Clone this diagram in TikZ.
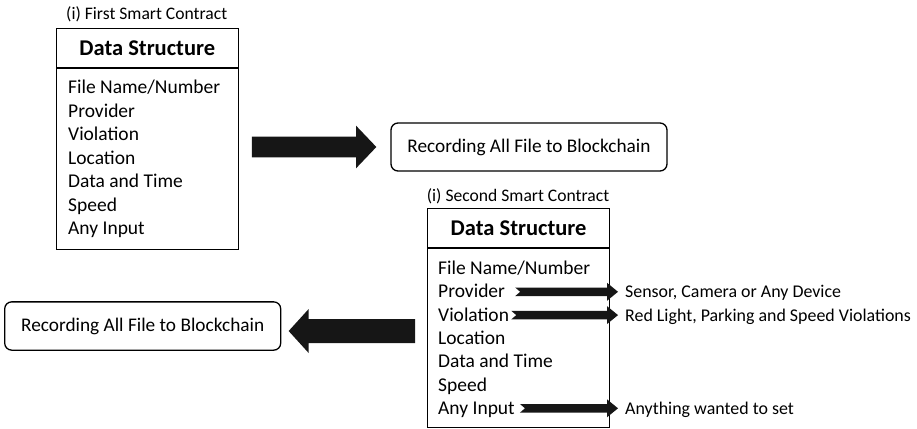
\documentclass[tikz,border=0pt]{standalone}
\usepackage{fontspec}
\setmainfont{Carlito}
\usetikzlibrary{calc}
\definecolor{arrowblack}{HTML}{161616}
\tikzset{
  frame/.style={draw=black, line width=1.2pt, rectangle, inner sep=0pt},
  titlebox/.style={frame, minimum width=182pt, minimum height=38.6pt, anchor=north west,
    font=\fontsize{22.5}{27}\selectfont\bfseries},
  bodybox/.style={frame, minimum width=182pt, anchor=north west},
  item/.style={inner sep=0pt, anchor=base west, font=\fontsize{19.5}{23.4}\selectfont},
  caption/.style={inner sep=0pt, anchor=base, font=\fontsize{17.6}{21}\selectfont},
  sidelabel/.style={inner sep=0pt, anchor=base west, font=\fontsize{17.9}{21}\selectfont},
  recbox/.style={draw=black, line width=1.3pt, rounded corners=7pt, inner sep=0pt,
    minimum width=276pt, minimum height=48pt, font=\fontsize{19.3}{23}\selectfont},
  arrowfill/.style={fill=arrowblack}
}
\newcommand\hblockarrow[6]{%
  \fill[arrowfill] let \p1=#1, \p2=#2 in
   (\x1,{\y2+(#3)}) -- ({\x2-(#5)},{\y2+(#3)}) -- ({\x2-(#5)},{\y2+(#4)}) -- (\x2,\y2)
   -- ({\x2-(#5)},{\y2-(#4)}) -- ({\x2-(#5)},{\y2-(#3)}) -- (\x1,{\y2-(#3)})
   -- ({\x1+(#6)},\y2) -- cycle;}
\begin{document}
\begin{tikzpicture}[x=1pt,y=-1pt]
\useasboundingbox (0,0) rectangle (917,428);
% ---- first smart contract
\node[caption] (c1) at (146.7,19.5) {(i) First Smart Contract};
\node[titlebox] (t1) at (55.7,28.3) {Data Structure};
\node[bodybox, minimum height=181pt] (b1) at (t1.south west) {};
\node[item] (i11) at (68,93.5) {File Name/Number};
\node[item] (i12) at (68,117) {Provider};
\node[item] (i13) at (68,140.5) {Violation};
\node[item] (i14) at (68,164) {Location};
\node[item] (i15) at (68,187.5) {Data and Time};
\node[item] (i16) at (68,211) {Speed};
\node[item] (i17) at (68,234.5) {Any Input};
% ---- top recording box
\node[recbox] (r1) at (529,147) {Recording All File to Blockchain};
\coordinate (a1s) at ($(b1.east |- r1.west)+(13,0)$);
\coordinate (a1e) at ($(r1.west)+(-14,0)$);
\hblockarrow{(a1s)}{(a1e)}{10.3pt}{21.3pt}{20.3pt}{0pt}
% ---- second smart contract
\node[caption] (c2) at (518,201) {(i) Second Smart Contract};
\node[titlebox] (t2) at (427,208) {Data Structure};
\node[bodybox, minimum height=179pt] (b2) at (t2.south west) {};
\node[item] (i21) at (438,274.5) {File Name/Number};
\node[item] (i22) at (438,297.8) {Provider};
\node[item] (i23) at (438,321.1) {Violation};
\node[item] (i24) at (438,344.4) {Location};
\node[item] (i25) at (438,367.7) {Data and Time};
\node[item] (i26) at (438,391) {Speed};
\node[item] (i27) at (438,414.3) {Any Input};
% side labels
\node[sidelabel] (s1) at (625,297.8) {Sensor, Camera or Any Device};
\node[sidelabel] (s2) at (625,321.1) {Red Light, Parking and Speed Violations};
\node[sidelabel] (s3) at (625,414.3) {Anything wanted to set};
\coordinate (p1s) at ($(i22.base east)+(10,-6)$);
\coordinate (p1e) at ($(s1.base west)+(-7,-6)$);
\coordinate (p2s) at ($(i23.base east)+(2,-6)$);
\coordinate (p2e) at ($(s2.base west)+(-7,-6)$);
\coordinate (p3s) at ($(i27.base east)+(5,-6)$);
\coordinate (p3e) at ($(s3.base west)+(-7,-6)$);
\hblockarrow{(p1s)}{(p1e)}{4.3pt}{9pt}{11pt}{5pt}
\hblockarrow{(p2s)}{(p2e)}{4.3pt}{9pt}{11pt}{5pt}
\hblockarrow{(p3s)}{(p3e)}{4.3pt}{9pt}{11pt}{5pt}
% ---- bottom recording box
\node[recbox, minimum height=48.3pt] (r2) at (142.7,326) {Recording All File to Blockchain};
\coordinate (a2s) at ($(b2.west |- r2.east)+(-12,5)$);
\coordinate (a2e) at ($(r2.east)+(7.3,5)$);
\hblockarrow{(a2s)}{(a2e)}{12pt}{22pt}{-20pt}{0pt}
\end{tikzpicture}
\end{document}
